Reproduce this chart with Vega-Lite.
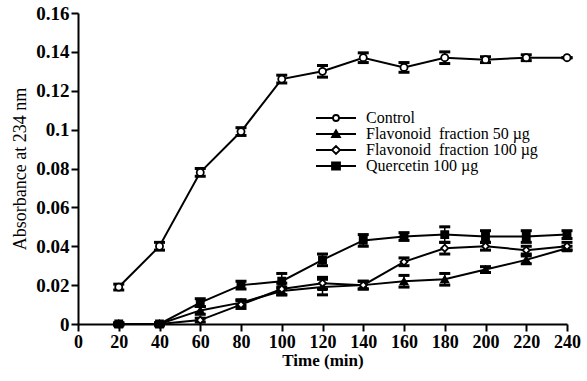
{
  "$schema": "https://vega.github.io/schema/vega-lite/v6.json",
  "width": 489,
  "height": 311,
  "autosize": "none",
  "padding": {"left": 78, "top": 13, "right": 20, "bottom": 57},
  "background": "white",
  "config": {
    "font": "Liberation Serif",
    "view": {"stroke": null},
    "legend": {"symbolStrokeColor": "black", "symbolStrokeWidth": 1.8},
    "axis": {
      "domainColor": "black", "domainWidth": 2, "tickColor": "black", "tickWidth": 2, "tickSize": 7,
      "labelColor": "black", "labelPadding": 2, "titleColor": "black", "grid": false, "labelFlush": false
    }
  },
  "data": {"values": [
    {"t": 20, "series": "Control", "v": 0.019, "e": 0.0015},
    {"t": 40, "series": "Control", "v": 0.040, "e": 0.002},
    {"t": 60, "series": "Control", "v": 0.078, "e": 0.002},
    {"t": 80, "series": "Control", "v": 0.099, "e": 0.002},
    {"t": 100, "series": "Control", "v": 0.126, "e": 0.002},
    {"t": 120, "series": "Control", "v": 0.130, "e": 0.003},
    {"t": 140, "series": "Control", "v": 0.137, "e": 0.0025},
    {"t": 160, "series": "Control", "v": 0.132, "e": 0.0025},
    {"t": 180, "series": "Control", "v": 0.137, "e": 0.003},
    {"t": 200, "series": "Control", "v": 0.136, "e": 0.0015},
    {"t": 220, "series": "Control", "v": 0.137, "e": 0.0015},
    {"t": 240, "series": "Control", "v": 0.137, "e": 0},
    {"t": 20, "series": "Flavonoid\u00a0 fraction 50 µg", "v": 0.0, "e": 0.0005},
    {"t": 40, "series": "Flavonoid\u00a0 fraction 50 µg", "v": 0.0, "e": 0.0005},
    {"t": 60, "series": "Flavonoid\u00a0 fraction 50 µg", "v": 0.007, "e": 0.002},
    {"t": 80, "series": "Flavonoid\u00a0 fraction 50 µg", "v": 0.011, "e": 0.0015},
    {"t": 100, "series": "Flavonoid\u00a0 fraction 50 µg", "v": 0.017, "e": 0.002},
    {"t": 120, "series": "Flavonoid\u00a0 fraction 50 µg", "v": 0.019, "e": 0.004},
    {"t": 140, "series": "Flavonoid\u00a0 fraction 50 µg", "v": 0.020, "e": 0.002},
    {"t": 160, "series": "Flavonoid\u00a0 fraction 50 µg", "v": 0.022, "e": 0.003},
    {"t": 180, "series": "Flavonoid\u00a0 fraction 50 µg", "v": 0.023, "e": 0.003},
    {"t": 200, "series": "Flavonoid\u00a0 fraction 50 µg", "v": 0.028, "e": 0.0015},
    {"t": 220, "series": "Flavonoid\u00a0 fraction 50 µg", "v": 0.033, "e": 0.002},
    {"t": 240, "series": "Flavonoid\u00a0 fraction 50 µg", "v": 0.039, "e": 0.001},
    {"t": 20, "series": "Flavonoid\u00a0 fraction 100 µg", "v": 0.0, "e": 0.0005},
    {"t": 40, "series": "Flavonoid\u00a0 fraction 100 µg", "v": 0.0, "e": 0.0005},
    {"t": 60, "series": "Flavonoid\u00a0 fraction 100 µg", "v": 0.002, "e": 0.001},
    {"t": 80, "series": "Flavonoid\u00a0 fraction 100 µg", "v": 0.010, "e": 0.002},
    {"t": 100, "series": "Flavonoid\u00a0 fraction 100 µg", "v": 0.018, "e": 0.003},
    {"t": 120, "series": "Flavonoid\u00a0 fraction 100 µg", "v": 0.021, "e": 0.003},
    {"t": 140, "series": "Flavonoid\u00a0 fraction 100 µg", "v": 0.020, "e": 0.002},
    {"t": 160, "series": "Flavonoid\u00a0 fraction 100 µg", "v": 0.032, "e": 0.002},
    {"t": 180, "series": "Flavonoid\u00a0 fraction 100 µg", "v": 0.039, "e": 0.003},
    {"t": 200, "series": "Flavonoid\u00a0 fraction 100 µg", "v": 0.040, "e": 0.002},
    {"t": 220, "series": "Flavonoid\u00a0 fraction 100 µg", "v": 0.038, "e": 0.002},
    {"t": 240, "series": "Flavonoid\u00a0 fraction 100 µg", "v": 0.040, "e": 0.002},
    {"t": 20, "series": "Quercetin 100 µg", "v": 0.0, "e": 0.0005},
    {"t": 40, "series": "Quercetin 100 µg", "v": 0.0, "e": 0.0005},
    {"t": 60, "series": "Quercetin 100 µg", "v": 0.011, "e": 0.002},
    {"t": 80, "series": "Quercetin 100 µg", "v": 0.020, "e": 0.002},
    {"t": 100, "series": "Quercetin 100 µg", "v": 0.022, "e": 0.004},
    {"t": 120, "series": "Quercetin 100 µg", "v": 0.033, "e": 0.003},
    {"t": 140, "series": "Quercetin 100 µg", "v": 0.043, "e": 0.003},
    {"t": 160, "series": "Quercetin 100 µg", "v": 0.045, "e": 0.002},
    {"t": 180, "series": "Quercetin 100 µg", "v": 0.046, "e": 0.004},
    {"t": 200, "series": "Quercetin 100 µg", "v": 0.045, "e": 0.003},
    {"t": 220, "series": "Quercetin 100 µg", "v": 0.045, "e": 0.003},
    {"t": 240, "series": "Quercetin 100 µg", "v": 0.046, "e": 0.002}
  ]},
  "encoding": {
    "x": {"field": "t", "type": "quantitative",
      "scale": {"domain": [0, 240], "nice": false},
      "axis": {"values": [0,20,40,60,80,100,120,140,160,180,200,220,240], "title": "Time (min)",
        "labelFont": "Liberation Serif", "labelFontWeight": 700, "labelFontSize": 18, "labelFlush": false,
        "titleFont": "Liberation Serif", "titleFontSize": 17, "titleFontWeight": 700, "titlePadding": 1}},
    "y": {"field": "v", "type": "quantitative",
      "scale": {"domain": [0, 0.16], "nice": false, "zero": true},
      "axis": {"values": [0,0.02,0.04,0.06,0.08,0.1,0.12,0.14,0.16], "format": "~g", "title": "Absorbance at 234 nm",
        "labelFont": "Liberation Serif", "labelFontWeight": 700, "labelFontSize": 19,
        "titleFont": "Liberation Serif", "titleFontSize": 18, "titleFontWeight": 400, "titlePadding": 6}}
  },
  "layer": [
    {
      "mark": {"type": "line", "color": "black", "strokeWidth": 2},
      "encoding": {"detail": {"field": "series"}}
    },
    {
      "mark": {"type": "errorbar", "color": "black", "opacity": 1,
        "ticks": {"size": 11, "thickness": 3, "color": "black", "opacity": 1},
        "rule": {"strokeWidth": 1.5, "color": "black", "opacity": 1}},
      "encoding": {"yError": {"field": "e"}}
    },
    {
      "mark": {"type": "point", "filled": true, "stroke": "black", "strokeWidth": 1.8, "size": 50, "opacity": 1},
      "encoding": {
        "shape": {"field": "series", "legend": null,
          "scale": {"domain": ["Control", "Flavonoid\u00a0 fraction 50 µg", "Flavonoid\u00a0 fraction 100 µg", "Quercetin 100 µg"],
            "range": ["circle", "triangle-up", "diamond", "square"]}},
        "fill": {"field": "series", "legend": null,
          "scale": {"domain": ["Control", "Flavonoid\u00a0 fraction 50 µg", "Flavonoid\u00a0 fraction 100 µg", "Quercetin 100 µg"],
            "range": ["white", "black", "white", "black"]}}
      }
    },
    {
      "transform": [{"filter": "false"}],
      "mark": {"type": "point", "filled": true, "strokeWidth": 1.8, "opacity": 1},
      "encoding": {
        "shape": {"field": "series",
          "scale": {"domain": ["Control", "Flavonoid\u00a0 fraction 50 µg", "Flavonoid\u00a0 fraction 100 µg", "Quercetin 100 µg"],
            "range": ["M-5,0H-0.75M0.75,0H5M-0.75,0A0.75,0.75 0 1,0 0.75,0A0.75,0.75 0 1,0 -0.75,0Z",
                      "M-5,0H5M-1,0.8L1,0.8L0,-0.95Z",
                      "M-5,0H-1M1,0H5M-1,0L0,-1L1,0L0,1Z",
                      "M-5,0H5M-1,-0.9H1V0.9H-1Z"]},
          "legend": {"title": null, "orient": "none", "legendX": 250, "legendY": 97, "padding": 0,
            "symbolSize": 64, "symbolStrokeWidth": 1.8, "symbolOpacity": 1,
            "labelFont": "Liberation Serif", "labelFontSize": 16, "labelColor": "black", "labelOffset": 22, "rowPadding": 0, "labelLimit": 400}},
        "fill": {"field": "series",
          "scale": {"domain": ["Control", "Flavonoid\u00a0 fraction 50 µg", "Flavonoid\u00a0 fraction 100 µg", "Quercetin 100 µg"],
            "range": ["white", "black", "white", "black"]},
          "legend": {"title": null, "orient": "none", "legendX": 250, "legendY": 97, "padding": 0,
            "symbolSize": 64, "symbolStrokeWidth": 1.8, "symbolOpacity": 1,
            "labelFont": "Liberation Serif", "labelFontSize": 16, "labelColor": "black", "labelOffset": 22, "rowPadding": 0, "labelLimit": 400}},
        "stroke": {"field": "series",
          "scale": {"domain": ["Control", "Flavonoid\u00a0 fraction 50 µg", "Flavonoid\u00a0 fraction 100 µg", "Quercetin 100 µg"],
            "range": ["black", "black", "black", "black"]},
          "legend": {"title": null, "orient": "none", "legendX": 250, "legendY": 97, "padding": 0,
            "symbolSize": 64, "symbolStrokeWidth": 1.8, "symbolOpacity": 1,
            "labelFont": "Liberation Serif", "labelFontSize": 16, "labelColor": "black", "labelOffset": 22, "rowPadding": 0, "labelLimit": 400}}
      }
    }
  ],
  "resolve": {"scale": {"shape": "independent", "fill": "independent", "stroke": "independent"}}
}
